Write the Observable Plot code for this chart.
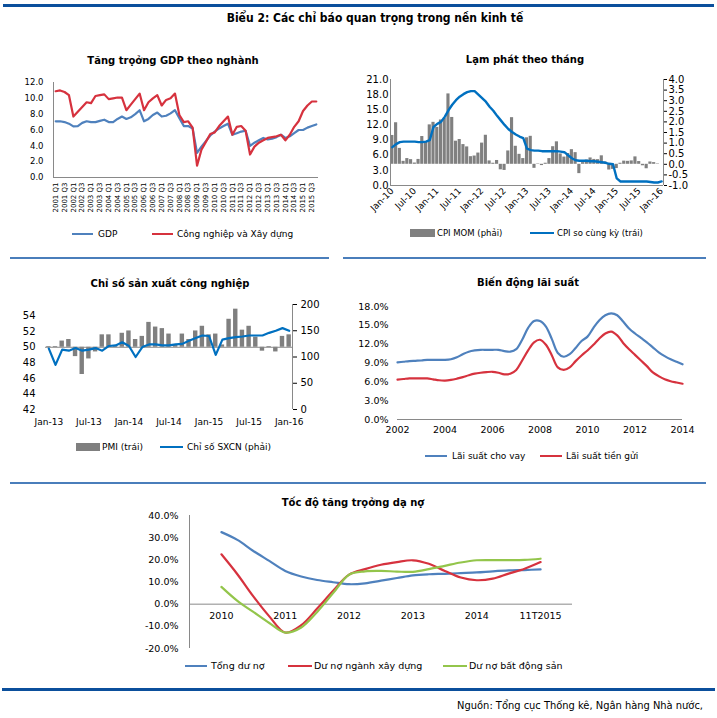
<!DOCTYPE html>
<html><head><meta charset="utf-8">
<script src="https://cdn.jsdelivr.net/npm/d3@7"></script>
<script src="https://cdn.jsdelivr.net/npm/@observablehq/plot@0.6"></script>
<style>
html,body{margin:0;padding:0;background:#fff;}
#root{position:relative;width:717px;height:718px;overflow:hidden;font-family:"DejaVu Sans",Verdana,sans-serif;color:#000;background:#fff;}
.abs{position:absolute;white-space:nowrap;line-height:1;}
.ttl{font-weight:bold;font-size:10px;transform:translate(-50%,-50%);}
.lg{font-size:8.5px;transform:translateY(-50%);}
.cond{font-family:"DejaVu Sans Condensed","Liberation Sans Narrow","DejaVu Sans",sans-serif;font-stretch:condensed;}
</style></head><body><div id="root"></div>
<script>
// ================= DATA =================
// Chart 1: GDP growth by sector (cumulative, %), 2001Q1..2015Q4
const quarterYears = [2001,2002,2003,2004,2005,2006,2007,2008,2009,2010,2011,2012,2013,2014,2015];
const quarterNames = ["Q1","Q2","Q3","Q4"];
const gdpGrowth = [7.1,7.1,7.0,6.8, 6.45,6.5,6.9,7.1, 7.0,7.0,7.15,7.3, 7.0,7.0,7.4,7.7,
  7.4,7.6,8.0,8.5, 7.1,7.4,7.9,8.2, 7.7,7.8,8.1,8.5, 7.5,6.5,6.5,6.2,
  3.1,3.9,4.6,5.3, 5.8,6.2,6.5,6.8, 5.4,5.6,5.8,5.9, 4.0,4.4,4.7,5.0,
  4.8,4.9,5.1,5.4, 5.0,5.2,5.6,6.0, 6.0,6.3,6.5,6.7];
const industryGrowth = [10.9,11.0,10.8,10.4, 7.7,8.3,8.9,9.5, 9.4,10.3,10.4,10.5, 9.9,10.0,10.1,10.1,
  8.5,9.2,9.9,10.6, 8.5,9.5,10.0,10.4, 9.1,9.8,10.0,10.6, 7.9,7.0,7.1,6.3,
  1.5,3.5,4.5,5.5, 5.7,6.5,7.1,7.7, 5.4,6.4,6.5,5.9, 2.9,3.9,4.4,4.7,
  5.0,5.1,5.2,5.4, 4.7,5.4,6.4,7.1, 8.4,9.1,9.6,9.6];
const gdpTicks = [0,2,4,6,8,10,12];

// Chart 2: monthly inflation, Jan-10..Jan-16
const monthNames = ["Jan","Feb","Mar","Apr","May","Jun","Jul","Aug","Sep","Oct","Nov","Dec"];
const cpiYears = ["10","11","12","13","14","15","16"];
const cpiMoM = [1.36,1.96,0.75,0.14,0.27,0.22,0.06,0.23,1.31,1.05,1.86,1.98,
  1.74,2.09,2.17,3.32,2.21,1.09,1.17,0.93,0.82,0.36,0.39,0.53,
  1.00,1.37,0.16,0.05,0.18,-0.26,-0.29,0.63,2.20,0.85,0.47,0.27,
  1.25,1.32,-0.19,0.02,-0.06,0.05,0.27,0.83,1.06,0.49,0.34,0.51,
  0.69,0.55,-0.44,0.08,0.20,0.30,0.23,0.22,0.40,0.11,-0.27,-0.24,
  -0.20,0.05,0.15,0.14,0.16,0.35,0.13,-0.07,-0.21,0.11,0.08,0.02,
  0.00];
const cpiYoY = [7.6,8.2,8.6,8.7,8.7,8.7,8.7,8.6,8.6,8.7,9.0,11.6,
  12.2,12.6,13.6,14.9,16.0,16.9,17.6,18.1,18.5,18.7,18.7,18.0,
  17.3,16.6,15.6,14.8,13.8,12.9,12.0,11.2,10.6,10.1,9.7,9.4,
  7.3,7.0,6.9,6.9,6.8,6.8,6.8,6.8,6.8,6.7,6.6,6.0,
  5.4,5.0,4.9,4.9,4.9,4.8,4.8,4.7,4.6,4.5,4.3,4.2,
  1.4,0.8,0.8,0.8,0.8,0.8,0.8,0.8,0.8,0.7,0.6,0.6,
  0.8];
const cpiLeftTicks = [0,3,6,9,12,15,18,21];
const cpiRightTicks = [-1,-0.5,0,0.5,1,1.5,2,2.5,3,3.5,4];

// Chart 3: PMI and industrial production index, Jan-13..Jan-16
const pmiValues = [50.1,50.1,50.8,51.0,48.8,46.5,48.5,49.4,51.6,51.6,50.2,51.8,
  52.1,51.0,51.4,53.2,52.6,52.4,51.7,50.3,51.7,51.0,52.1,52.7,
  51.6,51.7,50.3,53.6,54.9,52.2,52.7,51.3,49.5,50.1,49.4,51.4,
  51.6];
const iipValues = [116,85,114,112,117,112,114,117,112,121,122,128,
  121,100,119,124,124,122,122,124,125,131,136,141,
  140,104,133,136,138,139,141,141,141,146,150,155,
  150];
const pmiLeftTicks = [42,44,46,48,50,52,54];
const pmiRightTicks = [0,50,100,150,200];
const pmiTickLabels = ["Jan-13","Jul-13","Jan-14","Jul-14","Jan-15","Jul-15","Jan-16"];

// Chart 4: interest rates (%), quarterly 2002..2014
const lendingRate = [9.1,9.2,9.3,9.35, 9.4,9.5,9.5,9.5, 9.5,9.6,9.9,10.4,
  10.8,11.0,11.1,11.1, 11.1,11.1,10.9,10.8, 11.2,12.7,14.6,15.7,
  15.7,14.8,12.8,10.6, 10.0,10.4,11.4,12.5, 13.2,14.6,15.8,16.6,
  16.9,16.6,15.6,14.5, 13.7,13.0,12.3,11.5, 10.7,10.1,9.6,9.2, 8.8];
const depositRate = [6.35,6.45,6.55,6.55, 6.55,6.55,6.4,6.25, 6.2,6.3,6.5,6.75,
  7.05,7.3,7.45,7.55, 7.6,7.45,7.2,7.3, 7.9,9.4,11.0,12.3,
  12.7,11.9,10.2,8.3, 7.9,8.3,9.3,10.2, 11.0,11.9,12.9,13.7,
  14.0,13.4,12.2,11.2, 10.3,9.4,8.5,7.5, 6.9,6.4,6.1,5.9, 5.7];
const rateYTicks = [0,3,6,9,12,15,18];
const rateXTicks = [2002,2004,2006,2008,2010,2012,2014];

// Chart 5: credit growth (%), quarterly steps between categories
const creditCategories = ["2010","2011","2012","2013","2014","11T2015"];
const creditTotal = [32.5,29.0,24.0,19.5,15.0,12.5,10.9,9.9,9.0,9.4,10.6,11.8,13.0,13.5,13.7,14.0,14.3,14.8,15.2,15.4,15.7];
const creditConstruction = [22.5,13.5,3.5,-5.5,-12.8,-9.5,-2.0,6.0,13.3,15.8,17.8,19.0,19.8,18.2,15.0,12.0,10.8,11.5,13.8,16.0,19.0];
const creditRealEstate = [7.8,1.5,-3.5,-8.5,-12.8,-10.5,-3.5,5.0,13.3,14.8,15.0,14.7,14.6,15.8,17.3,18.8,19.8,19.9,19.9,20.0,20.5];
const creditYTicks = [-20,-10,0,10,20,30,40];

// ================= HELPERS =================
const root = document.getElementById("root");
const BLUE = "#4f81bd", RED = "#d6323e", GREEN = "#93c54b", VBLUE = "#0070c0", GRAY = "#808080", AX = "#898989";
function el(cls, css, text) {
  const d = document.createElement("div");
  d.className = "abs " + (cls || "");
  Object.assign(d.style, css);
  if (text != null) d.textContent = text;
  root.appendChild(d);
  return d;
}
function hline(x1, x2, y, h, color) { el("", {left: x1 + "px", top: (y - h / 2) + "px", width: (x2 - x1) + "px", height: h + "px", background: color}); }
function title(cx, cy, text) { el("ttl", {left: cx + "px", top: cy + "px"}, text); }
function legLine(x1, x2, y, color) { el("", {left: x1 + "px", top: (y - 1.25) + "px", width: (x2 - x1) + "px", height: "2.5px", background: color}); }
function legRect(x1, x2, y, color) { el("", {left: x1 + "px", top: (y - 4) + "px", width: (x2 - x1) + "px", height: "8px", background: color}); }
function legText(x, y, text, size) { const d = el("lg", {left: x + "px", top: y + "px"}, text); if (size) d.style.fontSize = size + "px"; }
function place(svg, left, top) {
  const w = document.createElement("div");
  w.className = "abs";
  w.style.left = left + "px"; w.style.top = top + "px";
  w.appendChild(svg); root.appendChild(w);
}
const baseStyle = (fs) => ({background: "transparent", fontFamily: "DejaVu Sans, Verdana, sans-serif", fontSize: fs + "px", color: "#000", overflow: "visible"});

// ================= FRAME / TEXT =================
hline(3, 714, 5, 3, "#0b4f9c");
el("cond", {left: "375px", top: "18px", transform: "translate(-50%,-50%)", fontWeight: "bold", fontSize: "12px"}, "Biểu 2: Các chỉ báo quan trọng trong nền kinh tế");
hline(10, 329, 257.5, 2, "#4a7ebb");
hline(343, 706, 257.5, 2, "#4a7ebb");
hline(10, 706, 482.5, 2, "#4a7ebb");
hline(2, 715, 689, 3, "#0b4f9c");
el("cond", {left: "703px", top: "705px", transform: "translate(-100%,-50%)", fontSize: "11px"}, "Nguồn: Tổng cục Thống kê, Ngân hàng Nhà nước,");

// ================= CHART 1: GDP =================
const quarters = [];
for (const y of quarterYears) for (const q of quarterNames) quarters.push(`${y} ${q}`);
const gdpTable = quarters.map((q, i) => ({i, q, gdp: gdpGrowth[i], ind: industryGrowth[i]}));
title(173, 61, "Tăng trọởng GDP theo nghành");
place(Plot.plot({
  width: 340, height: 150, marginLeft: 53, marginRight: 22, marginTop: 12, marginBottom: 43,
  style: baseStyle(8.5),
  x: {domain: [-0.5, quarters.length - 0.5], axis: null},
  y: {domain: [0, 12], axis: null},
  marks: [
    Plot.axisY({ticks: gdpTicks, tickFormat: d => d.toFixed(1), tickSize: 0, tickPadding: 10, label: null}),
    Plot.axisX({ticks: d3.range(0, quarters.length, 2), tickFormat: i => quarters[i], tickRotate: -90, tickSize: 0, tickPadding: 5, fontSize: 7, label: null}),
    Plot.ruleY([0], {stroke: AX}),
    Plot.ruleX([-0.5], {stroke: AX}),
    Plot.line(gdpTable, {x: "i", y: "gdp", stroke: BLUE, strokeWidth: 2.2}),
    Plot.line(gdpTable, {x: "i", y: "ind", stroke: RED, strokeWidth: 2.2})
  ]
}), 0, 70);
legLine(72, 93, 234, BLUE); legText(98, 234, "GDP", 9);
legLine(152, 173, 234, RED); legText(177, 234, "Công nghiệp và Xây dựng", 9);

// ================= CHART 2: Inflation =================
const monthLabels = [];
cpiYears.forEach(y => monthNames.forEach(m => monthLabels.push(`${m}-${y}`)));
monthLabels.length = cpiMoM.length;
const inflTable = monthLabels.map((m, i) => ({i, m, mom: cpiMoM[i], yoy: cpiYoY[i]}));
const toLeft = r => (r + 1) * 21 / 5;
const fromLeft = v => v * 5 / 21 - 1;
title(525, 60, "Lạm phát theo tháng");
place(Plot.plot({
  width: 367, height: 155, marginLeft: 40, marginRight: 54, marginTop: 14, marginBottom: 35,
  style: baseStyle(10),
  x: {domain: [-0.5, monthLabels.length - 0.5], axis: null},
  y: {domain: [0, 21], axis: null},
  marks: [
    Plot.axisY({ticks: cpiLeftTicks, tickFormat: d => d.toFixed(1), tickSize: 0, tickPadding: 2, label: null}),
    Plot.axisY({anchor: "right", ticks: cpiRightTicks.map(toLeft), tickFormat: v => fromLeft(v).toFixed(1), tickSize: 3, tickPadding: 2, label: null}),
    Plot.axisX({ticks: d3.range(0, monthLabels.length, 6), tickFormat: i => monthLabels[i], tickRotate: -45, tickSize: 0, tickPadding: 4, fontSize: 9, label: null}),
    Plot.rectY(inflTable, {x1: d => d.i - 0.42, x2: d => d.i + 0.42, y1: () => toLeft(0), y2: d => toLeft(d.mom), fill: GRAY}),
    Plot.ruleY([0], {stroke: AX}),
    Plot.ruleX([-0.5], {stroke: AX}),
    Plot.ruleX([monthLabels.length - 0.5], {stroke: AX}),
    Plot.line(inflTable, {x: "i", y: "yoy", stroke: VBLUE, strokeWidth: 2.4})
  ]
}), 350, 65);
legRect(410, 435, 233, GRAY); legText(437, 233, "CPI MOM (phải)");
legLine(530, 554, 233, VBLUE); legText(557, 233, "CPI so cùng kỳ (trái)");

// ================= CHART 3: PMI =================
const pmiTable = pmiValues.map((p, i) => ({i, pmi: p, iip: iipValues[i]}));
const pmiLeftDomain = [42, 55.5];
const iipToLeft = r => pmiLeftDomain[0] + r * (pmiLeftDomain[1] - pmiLeftDomain[0]) / 200;
const leftToIip = v => (v - pmiLeftDomain[0]) * 200 / (pmiLeftDomain[1] - pmiLeftDomain[0]);
title(170, 284, "Chỉ số sản xuất công nghiệp");
place(Plot.plot({
  width: 340, height: 145, marginLeft: 45, marginRight: 48, marginTop: 14, marginBottom: 26,
  style: baseStyle(9),
  x: {domain: [-0.5, pmiValues.length - 0.5], axis: null},
  y: {domain: pmiLeftDomain, axis: null},
  marks: [
    Plot.axisY({ticks: pmiLeftTicks, tickFormat: d => String(d), tickSize: 0, tickPadding: 10, fontSize: 10, label: null}),
    Plot.axisY({anchor: "right", ticks: pmiRightTicks.map(iipToLeft), tickFormat: v => String(Math.round(leftToIip(v))), tickSize: 4, tickPadding: 4, fontSize: 10, label: null}),
    Plot.axisX({ticks: d3.range(0, pmiValues.length, 6), tickFormat: i => pmiTickLabels[i / 6], tickSize: 0, tickPadding: 9, label: null}),
    Plot.rectY(pmiTable, {x1: d => d.i - 0.33, x2: d => d.i + 0.33, y1: () => 50, y2: "pmi", fill: "#7f7f7f"}),
    Plot.ruleY([50], {stroke: AX}),
    Plot.ruleX([pmiValues.length - 0.5], {stroke: AX}),
    Plot.line(pmiTable, {x: "i", y: d => iipToLeft(d.iip), stroke: VBLUE, strokeWidth: 2.2})
  ]
}), 0, 290);
legRect(76, 100, 447, "#7f7f7f"); legText(102, 447, "PMI (trái)", 9);
legLine(160, 183, 447, VBLUE); legText(187, 447, "Chỉ số SXCN (phải)", 9);

// ================= CHART 4: Interest rates =================
const rateTimes = d3.range(0, lendingRate.length).map(k => 2002 + k / 4);
const rateTable = rateTimes.map((t, k) => ({t, lend: lendingRate[k], dep: depositRate[k]}));
title(528, 283, "Biến động lãi suất");
place(Plot.plot({
  width: 367, height: 150, marginLeft: 47, marginRight: 35, marginTop: 16, marginBottom: 21,
  style: baseStyle(9.5),
  x: {domain: [2002, 2014], axis: null},
  y: {domain: [0, 18], axis: null},
  marks: [
    Plot.axisY({ticks: rateYTicks, tickFormat: d => d.toFixed(1) + "%", tickSize: 0, tickPadding: 9, label: null}),
    Plot.axisX({ticks: rateXTicks, tickFormat: d => String(d), tickSize: 0, tickPadding: 7, label: null}),
    Plot.ruleY([0], {stroke: AX}),
    Plot.line(rateTable, {x: "t", y: "lend", stroke: BLUE, strokeWidth: 2.2, curve: "catmull-rom"}),
    Plot.line(rateTable, {x: "t", y: "dep", stroke: RED, strokeWidth: 2.2, curve: "catmull-rom"})
  ]
}), 350, 290);
legLine(425, 447, 456, BLUE); legText(452, 456, "Lãi suất cho vay", 9);
legLine(540, 562, 456, RED); legText(566, 456, "Lãi suất tiền gửi", 9);

// ================= CHART 5: Credit growth =================
const creditSteps = d3.range(0, creditTotal.length).map(k => k / 4);
const creditTable = creditSteps.map((s, k) => ({s, total: creditTotal[k], cons: creditConstruction[k], re: creditRealEstate[k]}));
title(353, 503, "Tốc độ tăng trọởng dạ nợ");
place(Plot.plot({
  width: 450, height: 160, marginLeft: 49, marginRight: 18, marginTop: 15, marginBottom: 12,
  style: baseStyle(9.5),
  x: {domain: [-0.5, creditCategories.length - 0.5], axis: null},
  y: {domain: [-20, 40], axis: null},
  marks: [
    Plot.axisY({ticks: creditYTicks, tickFormat: d => d.toFixed(1) + "%", tickSize: 0, tickPadding: 11, label: null}),
    Plot.ruleY([0], {stroke: AX}),
    Plot.ruleX([-0.5], {stroke: AX}),
    Plot.text(creditCategories, {x: (d, i) => i, y: () => 0, dy: 12, text: d => d, fontSize: 9.5}),
    Plot.line(creditTable, {x: "s", y: "total", stroke: BLUE, strokeWidth: 2.2, curve: "catmull-rom"}),
    Plot.line(creditTable, {x: "s", y: "cons", stroke: RED, strokeWidth: 2.2, curve: "catmull-rom"}),
    Plot.line(creditTable, {x: "s", y: "re", stroke: GREEN, strokeWidth: 2.2, curve: "catmull-rom"})
  ]
}), 140, 500);
legLine(185, 207, 666, BLUE); legText(211, 666, "Tổng dư nợ", 9.5);
legLine(288, 312, 666, RED); legText(314, 666, "Dư nợ ngành xây dựng", 9.5);
legLine(443, 467, 666, GREEN); legText(469, 666, "Dư nợ bất động sản", 9.5);
</script></body></html>
